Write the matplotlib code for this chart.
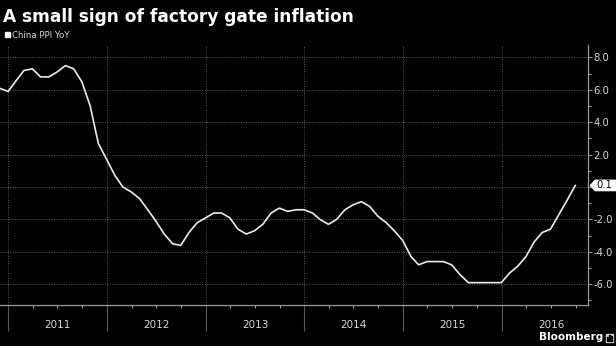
import numpy as np
import pandas as pd
import matplotlib
matplotlib.use("Agg")
import matplotlib.pyplot as plt
from matplotlib.patches import Polygon

# China PPI, year-on-year %, monthly (Nov 2010 - Sep 2016)
months = pd.period_range("2010-11", "2016-09", freq="M")
ppi_yoy = [
    6.1, 5.9,                                                        # 2010
    6.6, 7.2, 7.3, 6.8, 6.8, 7.1, 7.5, 7.3, 6.5, 5.0, 2.7, 1.7,      # 2011
    0.7, 0.0, -0.3, -0.7, -1.4, -2.1, -2.9, -3.5, -3.6, -2.8, -2.2, -1.9,  # 2012
    -1.6, -1.6, -1.9, -2.6, -2.9, -2.7, -2.3, -1.6, -1.3, -1.5, -1.4, -1.4,  # 2013
    -1.6, -2.0, -2.3, -2.0, -1.4, -1.1, -0.9, -1.2, -1.8, -2.2, -2.7, -3.3,  # 2014
    -4.3, -4.8, -4.6, -4.6, -4.6, -4.8, -5.4, -5.9, -5.9, -5.9, -5.9, -5.9,  # 2015
    -5.3, -4.9, -4.3, -3.4, -2.8, -2.6, -1.7, -0.8, 0.1,             # 2016
]
series_name = "China PPI YoY"
title = "A small sign of factory gate inflation"
years = [2011, 2012, 2013, 2014, 2015, 2016]
y_major = [8, 6, 4, 2, 0, -2, -4, -6]
y_minor = [7, 5, 3, 1, -1, -3, -5, -7]

# values are stamped at month end
dates = months.to_timestamp(how="end").normalize()

W, H, DPI = 616, 346, 100
BG = "black"
GRID = "#5a5a5a"
AXIS = "#9a9a9a"
TXT = "#d9d9d9"
LINE = "#ececec"

plt.rcParams["font.family"] = ["DejaVu Sans"]

fig = plt.figure(figsize=(W / DPI, H / DPI), dpi=DPI, facecolor=BG)
ax = fig.add_axes([0, 1 - 305 / H, 588 / W, (305 - 45) / H], facecolor=BG)

ax.plot(dates, ppi_yoy, color=LINE, lw=1.2, solid_joinstyle="round", clip_on=False, zorder=3)

ax.set_xlim(pd.Timestamp("2010-12-01"), pd.Timestamp("2016-11-16"))
ax.set_ylim(-7.28, 8.77)

# y axis on the right
ax.yaxis.tick_right()
ax.set_yticks(y_major)
ax.set_yticklabels(["" if v == 0 else f"{v:.1f}" for v in y_major])
ax.set_yticks(y_minor, minor=True)
ax.tick_params(axis="y", which="major", direction="out", length=3, width=0.8,
               color=AXIS, labelcolor=TXT, labelsize=7.2, pad=1)
ax.tick_params(axis="y", which="minor", direction="out", length=2.2, width=0.8, color=AXIS)

# x axis: year dividers and quarter ticks
year_starts = [pd.Timestamp(f"{y}-01-01") for y in years]
quarters = [pd.Timestamp(f"{y}-{m:02d}-01") for y in years for m in (4, 7, 10)]
ax.set_xticks(year_starts)
ax.set_xticklabels([])
ax.set_xticks(quarters, minor=True)
ax.tick_params(axis="x", which="major", direction="out", length=18.5, width=0.8, color=GRID)
ax.tick_params(axis="x", which="minor", direction="out", length=1.8, width=0.8, color=AXIS)

for y in years:
    mid = pd.Timestamp(f"{y}-07-02")
    ax.annotate(str(y), xy=(mid, 0), xycoords=("data", "axes fraction"),
                xytext=(0, -14.5), textcoords="offset points",
                ha="center", va="center", color=TXT, fontsize=7.5)

for s in ("top", "left"):
    ax.spines[s].set_visible(False)
for s in ("right", "bottom"):
    ax.spines[s].set_color(AXIS)
    ax.spines[s].set_linewidth(0.9)

ax.grid(True, which="major", color=GRID, lw=0.7, ls=(0, (1, 1.5)))

# title and legend
fig.text(3 / W, 1 - 17 / H, title, color="white", fontsize=12.25, fontweight="bold",
         ha="left", va="center")
fig.patches.append(plt.Rectangle((4.7 / W, 1 - 37.3 / H), 5 / W, 5 / H,
                                 transform=fig.transFigure, color="white"))
fig.text(12.5 / W, 1 - 35 / H, series_name, color=TXT, fontsize=6.2, ha="left", va="center")

# last-value tag on the right axis
last_val = ppi_yoy[-1]
xr, yr = ax.transAxes.transform((1.0, 0.0))[0], ax.transData.transform((0, last_val))[1]
x0 = xr + 2
tag = Polygon([(x0, yr), (x0 + 5, yr + 5.5), (W + 5, yr + 5.5), (W + 5, yr - 5.5), (x0 + 5, yr - 5.5)],
              closed=True, transform=None, facecolor="white", edgecolor="white", lw=0.5,
              clip_on=False, zorder=5)
fig.patches.append(tag)
fig.text((x0 + 6) / W, yr / H, f"{last_val:.1f}", color="black", fontsize=7.2,
         ha="left", va="center", zorder=6)

# source mark
fig.text(603 / W, 1 - 337.5 / H, "Bloomberg", color="white", fontsize=7.5, fontweight="bold",
         ha="right", va="center")
fig.patches.append(plt.Rectangle((605.5 / W, 1 - 342 / H), 7.5 / W, 8 / H,
                                 transform=fig.transFigure, color="#cfcfcf"))
for i, h in enumerate([3.5, 5.5, 4.5]):
    fig.patches.append(plt.Rectangle(((606.8 + i * 2.1) / W, 1 - 340.5 / H), 1.1 / W, h / H,
                                     transform=fig.transFigure, color="black"))

fig.savefig("out.png", dpi=DPI, facecolor=BG)
